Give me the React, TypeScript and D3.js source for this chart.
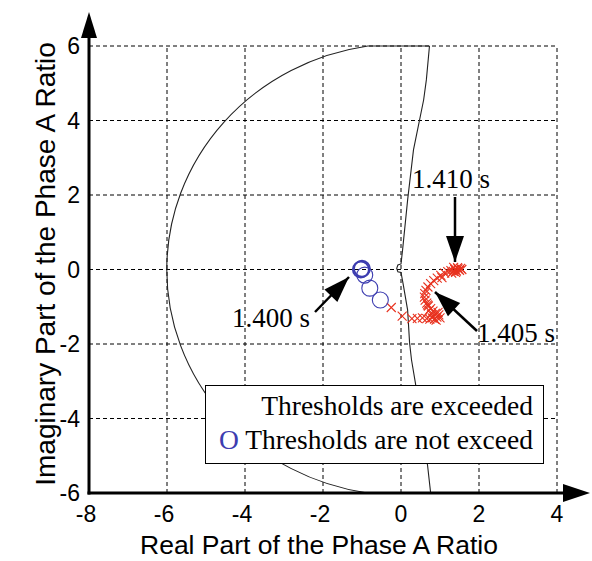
import React from "react";
import * as d3 from "d3";

const W = 592;
const H = 561;

const xTicks = [-8, -6, -4, -2, 0, 2, 4];
const yTicks = [-6, -4, -2, 0, 2, 4, 6];

// Blue circles: thresholds not exceeded
const blueReal = [-1.03, -1.0, -0.93, -0.8, -0.53];
const blueImag = [0.0, 0.02, -0.15, -0.5, -0.82];

// Red crosses: thresholds exceeded
const redReal = [
  -0.25, 0.03, 0.28, 0.42, 0.55, 0.66, 0.74, 0.8, 0.86, 0.92, 0.97, 1.0, 0.95, 0.88, 0.82,
  0.76, 0.7, 0.66, 0.62, 0.6, 0.61, 0.64, 0.69, 0.76, 0.84, 0.93, 1.02, 1.12, 1.2, 1.28,
  1.34, 1.38, 1.42, 1.46, 1.5, 1.53, 1.56, 1.45, 1.4, 1.3, 0.9, 0.78, 0.72, 0.68, 1.05, 1.35,
];
const redImag = [
  -1.02, -1.25, -1.32, -1.31, -1.3, -1.32, -1.33, -1.3, -1.33, -1.28, -1.22, -1.3, -1.15, -1.18, -1.12,
  -1.05, -0.98, -0.9, -0.82, -0.74, -0.65, -0.56, -0.47, -0.38, -0.3, -0.23, -0.16, -0.1, -0.06, -0.03,
  -0.05, 0.0, -0.04, 0.02, -0.02, 0.03, 0.0, 0.05, -0.08, -0.1, -1.36, -1.2, -1.1, -0.95, -0.22, 0.06,
];

// Relay characteristic: circle part
const circleCenter = 0.067;
const circleRadius = 6.07;
const arcTopReal = -0.85;
const arcBottomReal = -0.86;
// Blinder line (bottom to top)
const blinderReal = [0.76, 0.68, 0.5, 0.37, 0.27, 0.22, 0.17, 0.06, 0.0, -0.08, -0.11, -0.08, 0.0, 0.04, 0.17, 0.32, 0.58, 0.65, 0.73];
const blinderImag = [-6, -5.25, -4.04, -3.05, -2.43, -1.97, -1.09, -0.42, -0.08, -0.06, 0.03, 0.12, 0.15, 0.52, 1.87, 3.21, 4.55, 5.09, 6];

const annotations = [
  { label: "1.410 s", tx: 412, ty: 188, x1: 455, y1: 197, x2: 455, y2: 262 },
  { label: "1.405 s", tx: 477, ty: 342, x1: 477, y1: 331, x2: 435, y2: 292 },
  { label: "1.400 s", tx: 232, ty: 327, x1: 315, y1: 312, x2: 349, y2: 277 },
];

const RED = "#e8321f";
const BLUE = "#3d3db0";

function arrowHead(x1: number, y1: number, x2: number, y2: number, len: number, half: number) {
  const dx = x2 - x1;
  const dy = y2 - y1;
  const L = Math.hypot(dx, dy);
  const ux = dx / L;
  const uy = dy / L;
  const bx = x2 - ux * len;
  const by = y2 - uy * len;
  return `M${x2},${y2} L${bx - uy * half},${by + ux * half} L${bx + uy * half},${by - ux * half} Z`;
}

export default function App() {
  const x = d3.scaleLinear().domain([-8, 4]).range([89, 557]);
  const y = d3.scaleLinear().domain([-6, 6]).range([493, 46]);

  const rx = x(circleCenter + circleRadius) - x(circleCenter);
  const ry = y(0) - y(circleRadius);

  const blinderPts: [number, number][] = blinderReal.map((v, i) => [x(v), y(blinderImag[i])]);
  const blinderLine = d3.line()(blinderPts) || "";
  const charPath =
    `M${x(blinderReal[blinderReal.length - 1])},${y(6)} H${x(arcTopReal)} ` +
    `A${rx},${ry} 0 0 0 ${x(arcBottomReal)},${y(-6)} H${x(blinderReal[0])} ` +
    blinderLine.replace(/^M/, "L");

  const serif = "'Liberation Serif', 'Times New Roman', serif";
  const sans = "'Liberation Sans', Arial, sans-serif";

  return (
    <svg width={W} height={H} style={{ position: "absolute", left: 0, top: 0, background: "#fff" }}>
      <rect width={W} height={H} fill="#fff" />
      {/* grid */}
      <g stroke="#000" strokeWidth={1} strokeDasharray="4,3" fill="none">
        {xTicks.slice(1).map((t) => (
          <line key={"gx" + t} x1={x(t)} x2={x(t)} y1={y(-6)} y2={y(6)} />
        ))}
        {yTicks.slice(1).map((t) => (
          <line key={"gy" + t} x1={x(-8)} x2={x(4)} y1={y(t)} y2={y(t)} />
        ))}
      </g>
      {/* characteristic */}
      <path d={charPath} fill="none" stroke="#222" strokeWidth={1.1} />
      {/* red crosses */}
      <g stroke={RED} strokeWidth={1.1} fill="none">
        {redReal.map((v, i) => {
          const cx = x(v);
          const cy = y(redImag[i]);
          const s = 4.5;
          return (
            <path key={"r" + i} d={`M${cx - s},${cy - s}L${cx + s},${cy + s}M${cx - s},${cy + s}L${cx + s},${cy - s}`} />
          );
        })}
      </g>
      {/* blue circles */}
      <g stroke={BLUE} fill="none">
        {blueReal.map((v, i) => (
          <circle key={"b" + i} cx={x(v)} cy={y(blueImag[i])} r={8} strokeWidth={i < 2 ? 1.8 : 1.1} />
        ))}
      </g>
      {/* axes */}
      <g stroke="#000" strokeWidth={3}>
        <line x1={x(-8)} x2={x(-8)} y1={y(-6) + 1.5} y2={36} />
        <line x1={x(-8) - 1.5} x2={565} y1={y(-6)} y2={y(-6)} />
      </g>
      <path d={`M${x(-8)},12 L${x(-8) - 8},38 L${x(-8) + 8},38 Z`} fill="#000" />
      <path d={`M590,${y(-6)} L563,${y(-6) - 9} L563,${y(-6) + 9} Z`} fill="#000" />
      {/* tick labels */}
      <g fontFamily={sans} fontSize={23} fill="#000">
        {xTicks.map((t) => (
          <text key={"tx" + t} x={x(t) + (t < 0 ? -3 : 0)} y={522} textAnchor="middle">
            {t}
          </text>
        ))}
        {yTicks.map((t) => (
          <text key={"ty" + t} x={80} y={y(t)} textAnchor="end" dominantBaseline="central">
            {t}
          </text>
        ))}
      </g>
      {/* axis titles */}
      <text x={319} y={554} textAnchor="middle" fontFamily={sans} fontSize={26.5} fill="#000">
        Real Part of the Phase A Ratio
      </text>
      <text
        transform={`translate(55,264) rotate(-90)`}
        textAnchor="middle"
        fontFamily={sans}
        fontSize={28}
        fill="#000"
      >
        Imaginary Part of the Phase A Ratio
      </text>
      {/* annotations */}
      {annotations.map((a) => (
        <g key={a.label}>
          <line x1={a.x1} y1={a.y1} x2={a.x2} y2={a.y2} stroke="#000" strokeWidth={2.5} />
          <path d={arrowHead(a.x1, a.y1, a.x2, a.y2, 26, 9)} fill="#000" />
          <text x={a.tx} y={a.ty} fontFamily={serif} fontSize={27} fill="#000">
            {a.label}
          </text>
        </g>
      ))}
      {/* legend */}
      <rect x={205.5} y={385.5} width={338} height={78} fill="#fff" stroke="#000" strokeWidth={1} />
      <text x={533} y={415} textAnchor="end" fontFamily={serif} fontSize={27.5} fill="#000">
        Thresholds are exceeded
      </text>
      <text x={533} y={449} textAnchor="end" fontFamily={serif} fontSize={27.5} fill="#000">
        <tspan fill={BLUE}>O</tspan> Thresholds are not exceed
      </text>
    </svg>
  );
}
